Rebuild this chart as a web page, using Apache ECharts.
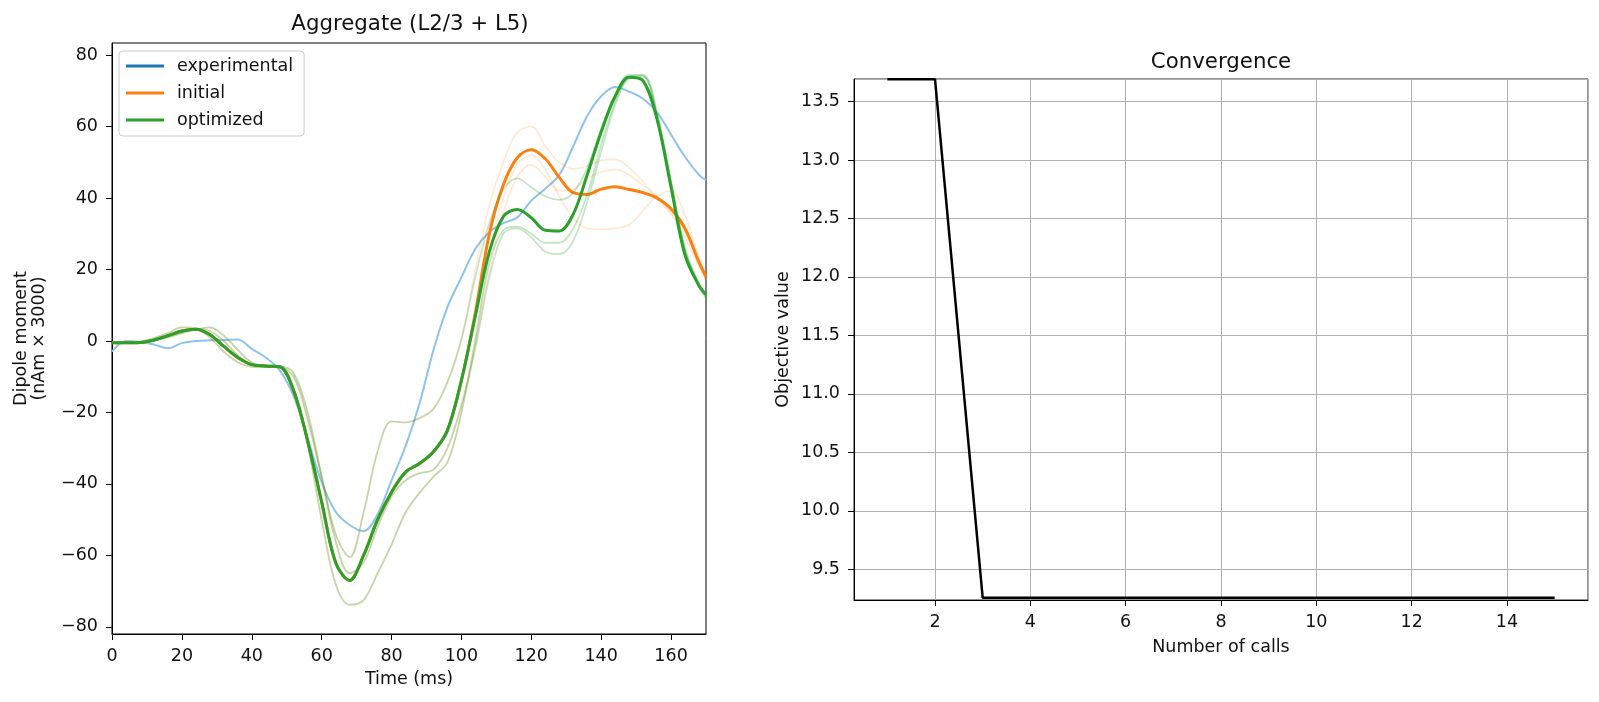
<!DOCTYPE html>
<html>
<head>
<meta charset="utf-8">
<title>Aggregate dipole and convergence</title>
<script src="https://cdn.jsdelivr.net/npm/echarts@6/dist/echarts.min.js"></script>
<style>
html, body { margin: 0; padding: 0; background: #fff; }
#main { width: 1599px; height: 702px; }
</style>
</head>
<body>
<div id="main"></div>
<script>
// time samples (ms), every 4 ms
var times = [0, 4, 8, 12, 16, 20, 24, 28, 32, 36, 40, 44, 48, 52, 56, 60, 64, 68, 72, 76, 80, 84,
    88, 92, 96, 100, 104, 108, 112, 116, 120, 124, 128, 132, 136, 140, 144, 148, 152, 156, 160, 164, 168, 170];

var experimental = [-3, 0, -0.3, -1, -2, -0.6, 0, 0.2, 0.3, 0.4, -2.2, -4.6, -8.2, -15.5, -27.3, -39.5, -47.8, -51.5, -53.2, -48.5, -39, -29.5,
    -17.5, -2.5, 9.5, 17.8, 25.8, 30.5, 33, 34.6, 39.3, 42.6, 46.5, 54.5, 63, 68.5, 71.1, 69.8, 67.8, 64, 57.8, 51.5, 46.5, 45];

var initialMean = [-0.5, -0.5, -0.4, 0.3, 1.5, 2.8, 3.3, 1.8, -1.5, -4.6, -6.6, -7, -7.2, -14, -28, -45, -62, -67, -60, -50, -42.3, -36.7,
    -34.3, -31, -25, -11, 8, 30, 43.7, 51.3, 53.5, 51, 45.8, 41.5, 41, 42.5, 43.2, 42.4, 41.5, 40, 37, 31.5, 22, 18];

var optimizedMean = [-0.5, -0.5, -0.4, 0.3, 1.5, 2.8, 3.3, 1.8, -1.5, -4.6, -6.6, -7, -7.2, -14, -28, -45, -62, -67, -60, -50, -42.3, -36.7,
    -34.3, -31, -25, -11, 7, 25, 34.8, 36.8, 34.5, 31, 30.8, 35.5, 46.5, 58.5, 68.5, 73.8, 72.8, 62, 43, 24, 15.5, 13];

// individual trials (faint lines)
var initialTrial1 = [-0.5, -0.5, -0.2, 0.8, 2.2, 3.8, 3.5, 1, -3, -6, -7.2, -7.3, -7.4, -10, -22, -38, -54, -60.5, -48, -31, -22.5, -22.8,
    -21.6, -19, -11.5, 0.5, 20, 38, 50, 58.5, 60, 54.5, 50, 48.2, 49, 50.5, 50.8, 48.5, 44.5, 40, 35.5, 29, 21, 17];
var initialTrial2 = [-0.5, -0.5, -0.5, 0, 1, 2.2, 3.2, 3.8, 1.5, -2.5, -6, -7, -7.2, -13, -29, -50, -68, -73.8, -72.5, -65, -57, -48,
    -42.5, -38, -34, -20, 1, 24, 40, 49.5, 52, 48, 40.5, 34.5, 31.5, 31.3, 31.5, 32.5, 36.5, 40.5, 42, 35, 23, 17];
var initialTrial3 = [-0.5, -0.5, -0.4, 0.2, 1.2, 2.5, 3.4, 2.8, 0, -4, -6.7, -7, -7.1, -9, -20, -38, -56, -65, -62, -52, -43.5, -39,
    -37, -36, -30, -18, -1, 20, 36, 46, 49.3, 46, 42, 42.5, 45.5, 47.3, 48, 46.5, 43.5, 40.5, 36, 30.5, 23, 19];

var optimizedTrial1 = [-0.5, -0.5, -0.2, 0.8, 2.2, 3.8, 3.5, 1, -3, -6, -7.2, -7.3, -7.4, -10, -22, -38, -54, -60.5, -48, -31, -22.5, -22.8,
    -21.6, -19, -11.5, 0.5, 18, 33, 42.5, 45.5, 43, 40.5, 39.5, 41.5, 48.5, 59.5, 69, 74.5, 74.3, 63, 44, 25, 15, 12];
var optimizedTrial2 = [-0.5, -0.5, -0.5, 0, 1, 2.2, 3.2, 3.8, 1.5, -2.5, -6, -7, -7.2, -13, -29, -50, -68, -73.8, -72.5, -65, -57, -48,
    -42.5, -38, -34, -20, 0, 22, 31, 32, 30, 27.5, 27.5, 31.5, 41, 55, 67, 74, 74.5, 64, 45, 26, 16, 13];
var optimizedTrial3 = [-0.5, -0.5, -0.4, 0.2, 1.2, 2.5, 3.4, 2.8, 0, -4, -6.7, -7, -7.1, -9, -20, -38, -56, -65, -62, -52, -43.5, -39,
    -37, -36, -30, -18, -2, 18, 30, 31.5, 29, 25, 24.3, 28, 39, 53, 66, 73.5, 74, 63, 44, 25.5, 15.5, 12.5];

// convergence
var calls = [1, 2, 3, 4, 5, 6, 7, 8, 9, 10, 11, 12, 13, 14, 15];
var objective = [13.69, 13.69, 9.256, 9.256, 9.256, 9.256, 9.256, 9.256, 9.256, 9.256, 9.256, 9.256, 9.256, 9.256, 9.256];

var FONT = 'DejaVu Sans';
var TXT = '#111';
var FS = 17.5;

function pairs(xs, ys) {
    return xs.map(function (x, i) { return [x, ys[i]]; });
}

function traceSeries(name, ys, color, width, opacity) {
    return {
        name: name,
        type: 'line',
        xAxisIndex: 0,
        yAxisIndex: 0,
        data: pairs(times, ys),
        smooth: 0.35,
        symbol: 'none',
        silent: true,
        color: color,
        lineStyle: { color: color, width: width, opacity: opacity }
    };
}

var myChart = echarts.init(document.getElementById('main'), null, { renderer: 'canvas' });

function axisCommon() {
    return {
        axisLine: { show: true, onZero: false, lineStyle: { color: '#000', width: 1 } },
        axisTick: { show: true, inside: false, length: 6, lineStyle: { color: '#000', width: 1 } },
        axisLabel: { color: TXT, fontFamily: FONT, fontSize: FS, margin: 13, showMinLabel: false, showMaxLabel: false },
        nameTextStyle: { color: TXT, fontFamily: FONT, fontSize: FS },
        nameLocation: 'middle'
    };
}

var xLeft = Object.assign(axisCommon(), {
    gridIndex: 0, type: 'value', min: 0, max: 170, interval: 20,
    name: 'Time (ms)', nameGap: 36,
    splitLine: { show: false }
});
xLeft.axisLabel = Object.assign({}, xLeft.axisLabel, { showMinLabel: true, margin: 13 });

var yLeft = Object.assign(axisCommon(), {
    gridIndex: 0, type: 'value', min: -82, max: 83.4, splitNumber: 8,
    name: 'Dipole moment\n(nAm \u00d7 3000)', nameGap: 64,
    nameTextStyle: { color: TXT, fontFamily: FONT, fontSize: FS, lineHeight: 17.5 },
    splitLine: { show: false }
});
yLeft.axisLabel = Object.assign({}, yLeft.axisLabel, {
    margin: 14,
    formatter: function (v) { return String(v).replace('-', '\u2212'); }
});

var xRight = Object.assign(axisCommon(), {
    gridIndex: 1, type: 'value', min: 0.3, max: 15.7, splitNumber: 8,
    name: 'Number of calls', nameGap: 38,
    splitLine: { show: true, lineStyle: { color: '#b0b0b0', width: 1 } }
});

var yRight = Object.assign(axisCommon(), {
    gridIndex: 1, type: 'value', min: 9.237, max: 13.693, splitNumber: 9,
    name: 'Objective value', nameGap: 62,
    splitLine: { show: true, lineStyle: { color: '#b0b0b0', width: 1 } }
});
yRight.axisLabel = Object.assign({}, yRight.axisLabel, {
    margin: 14,
    formatter: function (v) { return v.toFixed(1); }
});

var faintOrange = '#ff7f0e';
var faintGreen = '#2ca02c';

option = {
    backgroundColor: '#fff',
    animation: false,
    title: [
        {
            text: 'Aggregate (L2/3 + L5)',
            left: 405, top: 9, textAlign: 'center',
            textStyle: { color: TXT, fontFamily: FONT, fontSize: 21.3, fontWeight: 'normal' }
        },
        {
            text: 'Convergence',
            left: 1216, top: 47, textAlign: 'center',
            textStyle: { color: TXT, fontFamily: FONT, fontSize: 21.3, fontWeight: 'normal' }
        }
    ],
    grid: [
        { left: 112, top: 43, width: 594, height: 591, containLabel: false,
          show: true, borderColor: '#000', borderWidth: 1, backgroundColor: 'transparent' },
        { left: 854, top: 79, width: 734, height: 521, containLabel: false,
          show: true, borderColor: '#222', borderWidth: 1, backgroundColor: 'transparent' }
    ],
    legend: {
        orient: 'vertical',
        left: 119,
        top: 51,
        padding: [6, 11, 7, 7],
        itemWidth: 38,
        itemHeight: 3,
        itemGap: 9,
        borderColor: '#cccccc',
        borderWidth: 1,
        borderRadius: 4,
        backgroundColor: 'rgba(255,255,255,0.8)',
        textStyle: { color: TXT, fontFamily: FONT, fontSize: FS, padding: [0, 0, 0, 8] },
        data: [
            { name: 'experimental', icon: 'rect', itemStyle: { color: '#1f77b4', opacity: 1 } },
            { name: 'initial', icon: 'rect', itemStyle: { color: '#ff7f0e', opacity: 1 } },
            { name: 'optimized', icon: 'rect', itemStyle: { color: '#2ca02c', opacity: 1 } }
        ]
    },
    xAxis: [xLeft, xRight],
    yAxis: [yLeft, yRight],
    series: [
        traceSeries('experimental', experimental, '#8ec3ec', 2, 1),
        traceSeries('initial trial 1', initialTrial1, faintOrange, 1.8, 0.16),
        traceSeries('initial trial 2', initialTrial2, faintOrange, 1.8, 0.16),
        traceSeries('initial trial 3', initialTrial3, faintOrange, 1.8, 0.16),
        traceSeries('initial', initialMean, '#ff7f0e', 3, 1),
        traceSeries('optimized trial 1', optimizedTrial1, faintGreen, 1.8, 0.27),
        traceSeries('optimized trial 2', optimizedTrial2, faintGreen, 1.8, 0.27),
        traceSeries('optimized trial 3', optimizedTrial3, faintGreen, 1.8, 0.27),
        traceSeries('optimized', optimizedMean, '#2ca02c', 3, 1),
        {
            name: 'objective',
            type: 'line',
            xAxisIndex: 1,
            yAxisIndex: 1,
            data: pairs(calls, objective),
            symbol: 'none',
            silent: true,
            color: '#000',
            lineStyle: { color: '#000', width: 2.5 }
        }
    ]
};

myChart.setOption(option);
</script>
</body>
</html>
